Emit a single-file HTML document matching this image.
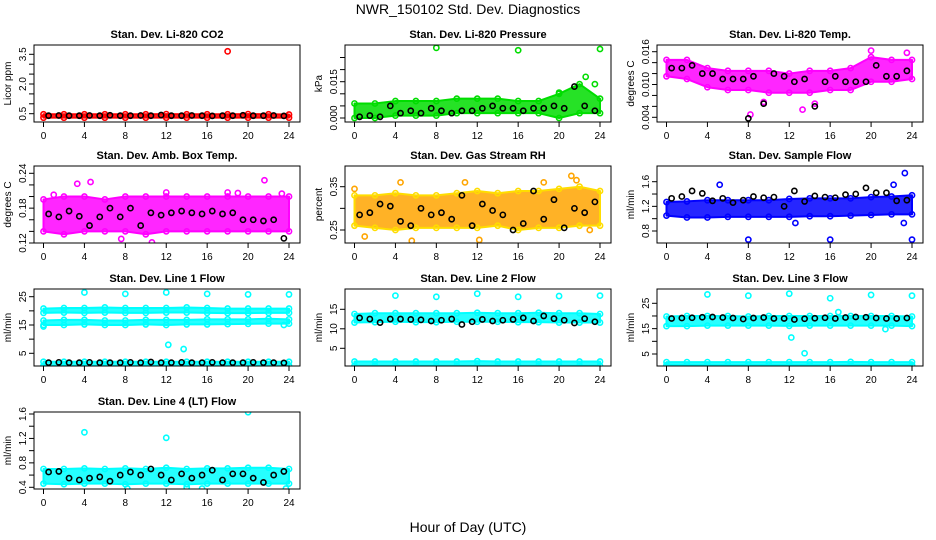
<!DOCTYPE html>
<html><head><meta charset="utf-8">
<style>
body{margin:0;background:#fff;}
svg{display:block;font-family:"Liberation Sans",sans-serif;}
</style></head>
<body>
<svg id="chart" width="936" height="540" viewBox="0 0 936 540" xmlns="http://www.w3.org/2000/svg">
<rect x="0" y="0" width="936" height="540" fill="#fff"/>
<text x="468" y="14" text-anchor="middle" font-size="14">NWR_150102  Std. Dev. Diagnostics</text>
<text x="468" y="532" text-anchor="middle" font-size="14">Hour of Day (UTC)</text>
</svg>
<script>
const HOURS = [0.5,1.5,2.5,3.5,4.5,5.5,6.5,7.5,8.5,9.5,10.5,11.5,12.5,13.5,14.5,15.5,16.5,17.5,18.5,19.5,20.5,21.5,22.5,23.5];
const BAND_HOURS = [0,2,4,6,8,10,12,14,16,18,20,22,24];
const X_TICKS = [0,4,8,12,16,20,24];

const co2Lo = [0.30,0.30,0.30,0.30,0.30,0.30,0.30,0.30,0.30,0.30,0.30,0.30,0.30];
const co2Hi = [0.47,0.47,0.47,0.47,0.47,0.47,0.48,0.47,0.47,0.47,0.48,0.47,0.46];
const co2Black = [0.40,0.41,0.40,0.40,0.41,0.40,0.42,0.40,0.40,0.41,0.40,0.43,0.40,0.40,0.41,0.40,0.39,0.40,0.40,0.42,0.40,0.40,0.41,0.39];
const co2Out = [[18,3.65]];

const presLo = [0,0,0.001,0.001,0.001,0.002,0.002,0.002,0.002,0.002,0.0,0.002,0.002];
const presHi = [0.006,0.006,0.007,0.007,0.007,0.008,0.008,0.008,0.007,0.007,0.010,0.014,0.008];
const presBlack = [0.0005,0.001,0.0005,0.005,0.002,0.003,0.002,0.004,0.003,0.002,0.003,0.003,0.004,0.005,0.004,0.004,0.003,0.004,0.004,0.005,0.004,0.013,0.005,0.003];
const presOut = [[8,0.029],[16,0.028],[24,0.0285],[22.6,0.017],[23.5,0.014],[20,0.0105]];

const tempLo = [0.0115,0.011,0.0095,0.009,0.009,0.0085,0.0085,0.0085,0.009,0.009,0.0105,0.0105,0.011];
const tempHi = [0.0145,0.0145,0.013,0.0125,0.0125,0.0125,0.012,0.0125,0.0125,0.013,0.015,0.0145,0.0145];
const tempBlack = [0.013,0.013,0.0135,0.012,0.012,0.011,0.011,0.011,0.0115,0.0065,0.012,0.0115,0.0105,0.011,0.006,0.0105,0.0115,0.0105,0.0105,0.0105,0.0135,0.0115,0.0115,0.0125];
const tempOut = [[8.2,0.0045],[13.3,0.0054],[20,0.0162],[23.5,0.0158],[14.5,0.0065],[9.5,0.0068]];
const tempBlackOut = [[8,0.0038]];

const ambLo = [0.14,0.135,0.14,0.14,0.14,0.135,0.14,0.14,0.14,0.14,0.14,0.14,0.14];
const ambHi = [0.195,0.20,0.20,0.195,0.20,0.20,0.20,0.20,0.20,0.20,0.20,0.20,0.20];
const ambBlack = [0.17,0.165,0.175,0.166,0.15,0.165,0.18,0.165,0.18,0.15,0.172,0.168,0.172,0.175,0.172,0.17,0.175,0.17,0.172,0.16,0.16,0.158,0.16,0.128];
const ambOut = [[3.3,0.222],[4.6,0.225],[21.6,0.228],[10.6,0.121],[7.6,0.127],[1,0.203],[12,0.207],[23.3,0.205],[19,0.206],[18,0.207]];

const rhLo = [0.26,0.255,0.25,0.255,0.255,0.255,0.255,0.26,0.25,0.255,0.255,0.26,0.26];
const rhHi = [0.33,0.33,0.335,0.33,0.33,0.335,0.34,0.335,0.34,0.34,0.345,0.35,0.34];
const rhBlack = [0.285,0.29,0.31,0.305,0.27,0.26,0.30,0.285,0.29,0.275,0.33,0.26,0.31,0.295,0.285,0.25,0.265,0.34,0.275,0.32,0.255,0.30,0.29,0.315];
const rhOut = [[0,0.345],[5.6,0.225],[12.2,0.227],[21.2,0.375],[21.7,0.365],[4.5,0.36],[18.5,0.36],[23,0.25],[10.8,0.36],[1,0.235]];

const sfLo = [1.05,1.02,1.02,1.03,1.03,1.03,1.03,1.04,1.04,1.05,1.06,1.07,1.07];
const sfHi = [1.27,1.28,1.30,1.30,1.30,1.30,1.32,1.33,1.33,1.33,1.35,1.36,1.38];
const sfBlack = [1.33,1.36,1.45,1.41,1.29,1.33,1.26,1.30,1.36,1.34,1.35,1.20,1.45,1.28,1.37,1.35,1.34,1.39,1.40,1.50,1.42,1.42,1.29,1.30];
const sfOut = [[8,0.66],[16,0.66],[24,0.66],[23.3,1.74],[23.2,0.93],[5.2,1.55],[12.6,0.93],[22.2,1.55]];

const l1TopLo = [19.3,19.4,19.3,19.4,19.3,19.3,19.4,19.4,19.3,19.2,19.2,19.3,19.3];
const l1TopHi = [20.8,21.0,21.0,21.2,21.0,21.0,21.0,21.2,21.0,20.8,20.8,20.8,20.8];
const l1MidLo = [15.0,15.0,15.2,15.0,15.0,15.2,15.0,15.2,15.2,15.3,15.4,15.5,15.5];
const l1MidHi = [16.6,16.8,16.8,16.6,16.6,16.8,16.8,16.8,17.0,17.0,17.0,17.2,17.0];
const l1BotLo = [0.6,0.6,0.6,0.6,0.6,0.6,0.6,0.6,0.6,0.6,0.6,0.6,0.6];
const l1BotHi = [2.0,2.0,2.0,2.0,2.0,2.0,2.0,2.0,2.0,2.0,2.0,2.0,2.0];
const l1Black = [1.7,1.8,1.7,1.7,1.8,1.7,1.7,1.7,1.8,1.7,1.9,1.7,1.7,1.8,1.7,1.7,1.8,1.7,1.7,1.7,1.8,1.7,1.7,1.6];
const l1Out = [[4,26.5],[8,26],[12,26.5],[16,26],[20,25.8],[24,25.8],[12.2,8],[13.7,6.5],[0,14.5],[23.5,15]];

const l2Lo = [11.6,11.7,11.8,11.7,11.7,11.8,11.8,11.8,11.7,11.7,11.6,11.6,11.6];
const l2Hi = [13.8,14.0,14.0,14.0,14.0,14.0,14.1,14.0,14.0,14.1,14.0,14.0,13.8];
const l2BotLo = [0.5,0.5,0.5,0.5,0.5,0.5,0.5,0.5,0.5,0.5,0.5,0.5,0.5];
const l2BotHi = [1.6,1.6,1.6,1.6,1.6,1.6,1.7,1.6,1.6,1.6,1.6,1.6,1.6];
const l2Black = [12.8,12.5,11.6,12.5,12.5,12.4,12.3,12.0,12.2,12.5,11.1,11.8,12.4,12.0,12.2,12.4,12.8,12.0,13.3,12.6,12.2,11.5,12.6,11.8];
const l2Out = [[4,18.5],[8,18.2],[12,19],[16,18.2],[20,18.4],[24,18.5]];

const l3Lo = [16.0,16.0,16.2,16.2,16.2,16.2,16.1,16.2,16.2,16.2,16.2,16.2,16.0];
const l3Hi = [19.8,20.0,20.0,20.0,19.8,20.0,20.0,20.0,20.0,20.0,20.0,20.0,19.8];
const l3BotLo = [0.6,0.6,0.6,0.6,0.6,0.6,0.6,0.6,0.6,0.6,0.6,0.6,0.6];
const l3BotHi = [1.8,1.8,1.8,1.8,1.8,1.8,1.8,1.8,1.8,1.9,1.8,1.8,1.8];
const l3Black = [19.0,19.2,19.3,19.5,19.6,19.4,19.2,18.8,19.2,19.4,19.0,19.0,18.6,18.9,19.1,19.3,19.0,19.4,19.6,19.5,19.2,19.0,19.0,19.2];
const l3Out = [[4,28.5],[8,28],[12,28.8],[16,27],[20,28.3],[24,28],[12.2,11.5],[13.5,5.3],[16.8,21.5],[21.4,14.8]];

const l4Lo = [0.46,0.45,0.46,0.46,0.45,0.46,0.46,0.45,0.46,0.46,0.46,0.46,0.46];
const l4Hi = [0.70,0.70,0.71,0.70,0.71,0.70,0.72,0.70,0.71,0.71,0.72,0.72,0.70];
const l4Black = [0.65,0.66,0.55,0.52,0.55,0.57,0.50,0.60,0.65,0.60,0.70,0.60,0.52,0.62,0.55,0.60,0.68,0.52,0.62,0.62,0.55,0.48,0.60,0.66];
const l4Out = [[4,1.3],[12,1.21],[20,1.63],[8.2,0.38],[23.7,0.38],[14,0.4],[15.5,0.38]];

const NS = "http://www.w3.org/2000/svg";
const svg = document.getElementById('chart');
const COL_X = [34,345,657];
const ROW_Y = [45,166,289,412];
const BOX_W = 266, BOX_H = 77;

function mk(tag, attrs, parent){
  const e = document.createElementNS(NS, tag);
  for (const k in attrs) e.setAttribute(k, attrs[k]);
  (parent||svg).appendChild(e);
  return e;
}

const panels = [
 {key:'co2', title:'Stan. Dev. Li-820 CO2', ylab:'Licor ppm', c:0, r:0, color:'#ff0000', ref:[0.5,113.7,3.5,54.3],
  bands:[[co2Lo,co2Hi]], black:co2Black, out:co2Out, yt:[0.5,1,1.5,2,2.5,3,3.5], yl:['0.5','2.0','3.5'], ylv:[0.5,2,3.5]},
 {key:'pressure', title:'Stan. Dev. Li-820 Pressure', ylab:'kPa', c:1, r:0, color:'#00dd00', ref:[0,118,0.015,81.7],
  bands:[[presLo,presHi]], black:presBlack, out:presOut, yt:[0,0.005,0.01,0.015,0.02,0.025], yl:['0.000','0.015'], ylv:[0,0.015]},
 {key:'temp', title:'Stan. Dev. Li-820 Temp.', ylab:'degrees C', c:2, r:0, color:'#ff00ff', ref:[0.004,117.3,0.016,51.7],
  bands:[[tempLo,tempHi]], black:tempBlack, out:tempOut, blackOut:tempBlackOut, yt:[0.004,0.006,0.008,0.010,0.012,0.014,0.016], yl:['0.004','0.010','0.016'], ylv:[0.004,0.010,0.016]},
 {key:'amb-box', title:'Stan. Dev. Amb. Box Temp.', ylab:'degrees C', c:0, r:1, color:'#ff00ff', ref:[0.12,243,0.24,173.3],
  bands:[[ambLo,ambHi]], black:ambBlack, out:ambOut, yt:[0.12,0.14,0.16,0.18,0.20,0.22,0.24], yl:['0.12','0.18','0.24'], ylv:[0.12,0.18,0.24]},
 {key:'rh', title:'Stan. Dev. Gas Stream RH', ylab:'percent', c:1, r:1, color:'#ffa500', edge:'#ffdd00', ref:[0.25,230,0.35,186.7],
  bands:[[rhLo,rhHi]], black:rhBlack, out:rhOut, yt:[0.25,0.30,0.35], yl:['0.25','0.35'], ylv:[0.25,0.35]},
 {key:'sample-flow', title:'Stan. Dev. Sample Flow', ylab:'ml/min', c:2, r:1, color:'#0000ff', ref:[0.8,231,1.6,181.7],
  bands:[[sfLo,sfHi]], black:sfBlack, out:sfOut, yt:[0.8,1.0,1.2,1.4,1.6], yl:['0.8','1.2','1.6'], ylv:[0.8,1.2,1.6]},
 {key:'line1', title:'Stan. Dev. Line 1 Flow', ylab:'ml/min', c:0, r:2, color:'#00ffff', ref:[5,353.3,25,296.7],
  bands:[[l1TopLo,l1TopHi],[l1MidLo,l1MidHi],[l1BotLo,l1BotHi]], black:l1Black, out:l1Out, yt:[5,10,15,20,25], yl:['5','15','25'], ylv:[5,15,25]},
 {key:'line2', title:'Stan. Dev. Line 2 Flow', ylab:'ml/min', c:1, r:2, color:'#00ffff', ref:[5,348.3,15,309.3],
  bands:[[l2Lo,l2Hi],[l2BotLo,l2BotHi]], black:l2Black, out:l2Out, yt:[5,10,15], yl:['5','10','15'], ylv:[5,10,15]},
 {key:'line3', title:'Stan. Dev. Line 3 Flow', ylab:'ml/min', c:2, r:2, color:'#00ffff', ref:[5,354,25,303.3],
  bands:[[l3Lo,l3Hi],[l3BotLo,l3BotHi]], black:l3Black, out:l3Out, yt:[5,10,15,20,25], yl:['5','15','25'], ylv:[5,15,25]},
 {key:'line4', title:'Stan. Dev. Line 4 (LT) Flow', ylab:'ml/min', c:0, r:3, color:'#00ffff', ref:[0.4,487.3,1.6,414],
  bands:[[l4Lo,l4Hi]], black:l4Black, out:l4Out, yt:[0.4,0.6,0.8,1.0,1.2,1.4,1.6], yl:['0.4','0.8','1.2','1.6'], ylv:[0.4,0.8,1.2,1.6]}
];

panels.forEach(p => {
  const bx = COL_X[p.c], by = ROW_Y[p.r];
  const g = mk('g', {});
  
  
  const xs = h => bx + 9.5 + h * (245.5 / 24);
  const ys = v => p.ref[1] + (v - p.ref[0]) * (p.ref[3] - p.ref[1]) / (p.ref[2] - p.ref[0]);

  const t = mk('text', {x: bx + BOX_W/2, y: by - 7, 'text-anchor':'middle', 'font-size':'11', 'font-weight':'bold'}, g);
  t.textContent = p.title;
  
  

  const clip = mk('clipPath', {id:'clip-' + p.key}, g);
  mk('rect', {x:bx, y:by, width:BOX_W, height:BOX_H}, clip);
  const marks = mk('g', {'clip-path':'url(#clip-' + p.key + ')'}, g);

  p.bands.forEach(b => {
    const lo = b[0], hi = b[1];
    let pts = BAND_HOURS.map((h,i) => xs(h) + ',' + ys(hi[i]));
    pts = pts.concat(BAND_HOURS.slice().reverse().map((h,j) => { const i = BAND_HOURS.length-1-j; return xs(h) + ',' + ys(lo[i]); }));
    const poly = mk('polygon', {points: pts.join(' '), fill: p.color, 'fill-opacity':'0.85', stroke: p.edge || p.color, 'stroke-width':'2', 'stroke-linejoin':'round'}, marks);
    
    
    BAND_HOURS.forEach((h,i) => {
      [lo[i], hi[i]].forEach(v => {
        const c = mk('circle', {cx: xs(h), cy: ys(v), r: 2.6, fill:'none', stroke: p.edge || p.color, 'stroke-width':'1.6'}, marks);
        
        
      });
    });
  });
  p.out.forEach(o => {
    const c = mk('circle', {cx: xs(o[0]), cy: ys(o[1]), r: 2.6, fill:'none', stroke: p.edge ? '#ffa500' : p.color, 'stroke-width':'1.6'}, marks);
    
    
  });
  p.black.forEach((v,i) => {
    const c = mk('circle', {cx: xs(HOURS[i]), cy: ys(v), r: 2.6, fill:'none', stroke:'#000', 'stroke-width':'1.6'}, marks);
    
    
  });
  (p.blackOut || []).forEach(o => {
    const c = mk('circle', {cx: xs(o[0]), cy: ys(o[1]), r: 2.6, fill:'none', stroke:'#000', 'stroke-width':'1.6'}, marks);
    
    
  });

  const box = mk('rect', {x:bx, y:by, width:BOX_W, height:BOX_H, fill:'none', stroke:'#000', 'stroke-width':'1'}, g);
  
  

  X_TICKS.forEach(h => {
    const x = xs(h);
    mk('line', {x1:x, x2:x, y1:by+BOX_H, y2:by+BOX_H+5, stroke:'#000'}, g);
    const tl = mk('text', {x:x, y:by+BOX_H+17, 'text-anchor':'middle', 'font-size':'10'}, g);
    tl.textContent = h;
    
    
  });
  p.yt.forEach(v => {
    const y = ys(v);
    if (y < by - 0.5) return;
    mk('line', {x1:bx-5, x2:bx, y1:y, y2:y, stroke:'#000'}, g);
  });
  p.ylv.forEach((v,i) => {
    const y = ys(v);
    const tl = mk('text', {x:0, y:0, 'text-anchor':'middle', 'font-size':'10', transform:'translate(' + (bx-8) + ',' + y + ') rotate(-90)'}, g);
    tl.textContent = p.yl[i];
    
    
  });
  const yl = mk('text', {x:0, y:0, 'text-anchor':'middle', 'font-size':'10', transform:'translate(' + (bx-23) + ',' + (by+BOX_H/2) + ') rotate(-90)'}, g);
  yl.textContent = p.ylab;
  
  
});
</script>
</body></html>
